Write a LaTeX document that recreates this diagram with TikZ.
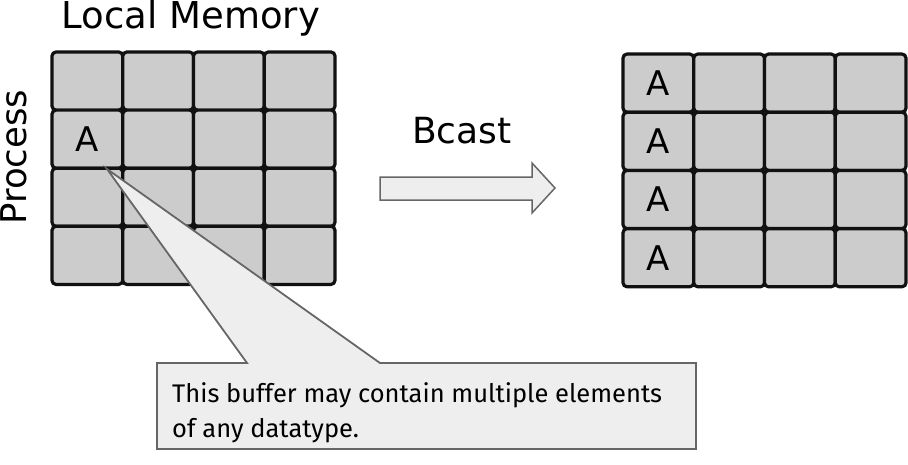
\documentclass[tikz,border=0pt]{standalone}
\usepackage{fontspec}
\setmainfont{DejaVu Sans}
\newfontfamily\callfont{Fira Sans}
\definecolor{cellgray}{HTML}{CCCCCC}
\definecolor{lightfill}{HTML}{EEEEEE}
\definecolor{edgegray}{HTML}{666666}
\definecolor{celledge}{HTML}{111111}
\begin{document}
\begin{tikzpicture}[x=1pt,y=-1pt,
  cell/.style={draw=celledge, fill=cellgray, line width=3.2pt, rounded corners=4pt,
    minimum width=70.75pt, minimum height=58.1pt, inner sep=0pt,
    font=\fontsize{34}{40}\selectfont},
  bigtext/.style={font=\fontsize{36}{42}\selectfont, inner sep=0pt},
  calltext/.style={font=\callfont\fontsize{25.5}{35}\selectfont, inner sep=0pt, align=left, anchor=base west},
  shapeline/.style={draw=edgegray, fill=lightfill, line width=1.8pt, line join=miter}
]
\useasboundingbox (0,0) rectangle (908,464);
% left grid
\foreach \i in {0,...,3}{
  \foreach \j in {0,...,3}{
    \node[cell] (L-\i-\j) at ({52+70.75*\i+35.375},{52+58.1*\j+29.05}) {};
  }
}
\node[bigtext, font=\fontsize{34}{40}\selectfont] (la) at (L-0-1) {A};
% right grid
\foreach \i in {0,...,3}{
  \foreach \j in {0,...,3}{
    \node[cell] (R-\i-\j) at ({623+70.75*\i+35.375},{54+58.2*\j+29.1}) {};
  }
}
\foreach \j in {0,...,3}{
  \node[bigtext, font=\fontsize{34}{40}\selectfont] (ra\j) at (R-0-\j) {A};
}
% labels
\node[bigtext, font=\fontsize{37}{42}\selectfont, anchor=base] (title) at (191,28) {Local Memory};
\node[bigtext, font=\fontsize{35.5}{42}\selectfont, anchor=base, rotate=90] (proc) at (26.5,157) {Process};
\node[bigtext, anchor=base] (bcast) at (462,143) {Bcast};
% arrow
\draw[shapeline, line width=1.5pt] (380,177) -- (532,177) -- (532,163) -- (555,188) -- (532,213) -- (532,200) -- (380,200) -- cycle;
% callout
\coordinate (tip) at (107,169);
\draw[shapeline] (157,363) -- (247,363) -- (tip) -- (380,363) -- (696,363) -- (696,449) -- (157,449) -- cycle;
\node[calltext] (note1) at (172,402) {This buffer may contain multiple elements};
\node[calltext] (note2) at (172,437) {of any datatype.};
\end{tikzpicture}
\end{document}
